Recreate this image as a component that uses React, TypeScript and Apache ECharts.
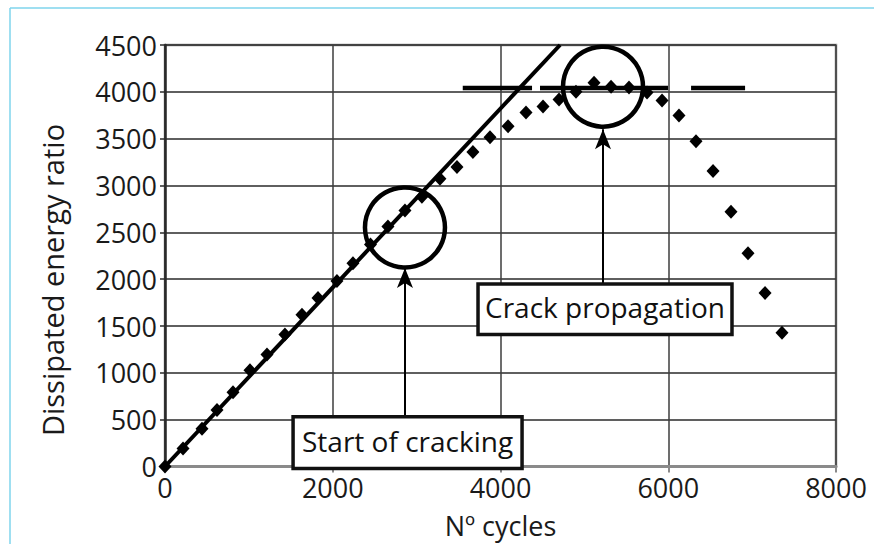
import React, { useEffect, useRef } from "react";
import * as echarts from "echarts";

// Measured points (Nº cycles, dissipated energy ratio)
const cycles = [0, 215, 441, 620, 811, 1013, 1216, 1430, 1633, 1824, 2050, 2241, 2450, 2658, 2861, 3063, 3278, 3481, 3671, 3875, 4090, 4304, 4507, 4698, 4900, 5115, 5318, 5532, 5747, 5926, 6128, 6331, 6534, 6748, 6951, 7154, 7356];
const energy = [0, 191, 403, 604, 794, 1027, 1197, 1408, 1620, 1800, 1980, 2171, 2370, 2563, 2732, 2880, 3071, 3198, 3357, 3515, 3632, 3780, 3843, 3918, 4002, 4098, 4055, 4045, 3992, 3907, 3748, 3473, 3155, 2721, 2276, 1853, 1429];

// Linear trend line
const trendX = [0, 4710];
const trendY = [0, 4500];

// Plateau (dashed) line
const plateauY = 4040;
const plateauSegments = [
  [3550, 4376],
  [4471, 5997],
  [6272, 6916],
];

// Axes
const xMin = 0;
const xMax = 8000;
const xStep = 2000;
const yMin = 0;
const yMax = 4500;
const yStep = 500;

// Annotations (data coordinates)
const circleCenters = [
  [2861, 2552],
  [5222, 4055],
];
const arrowX = [2861, 5222];
const arrowFrom = [529, 1948];
const arrowTo = [2118, 3600];
const boxTexts = ["Start of cracking", "Crack propagation"];
const boxX0 = [1527, 3732];
const boxX1 = [4257, 6760];
const boxYTop = [530, 1948];
const boxYBottom = [-21, 1408];

const FONT = "'Open Sans', 'Noto Sans', sans-serif";

export default function App() {
  const ref = useRef<HTMLDivElement>(null);

  useEffect(() => {
    document.body.style.margin = "0";
    const chart = echarts.init(ref.current!, undefined, { renderer: "svg" });

    const series: any[] = [
      {
        type: "line",
        data: trendX.map((x, i) => [x, trendY[i]]),
        symbol: "none",
        lineStyle: { color: "#000", width: 4 },
        z: 3,
        silent: true,
      },
      ...plateauSegments.map((s) => ({
        type: "line",
        data: [
          [s[0], plateauY],
          [s[1], plateauY],
        ],
        symbol: "none",
        lineStyle: { color: "#000", width: 4.5 },
        z: 3,
        silent: true,
      })),
      {
        type: "scatter",
        data: cycles.map((x, i) => [x, energy[i]]),
        symbol: "diamond",
        symbolSize: [13, 14],
        itemStyle: { color: "#000", opacity: 1 },
        z: 4,
        silent: true,
        markPoint: {
          silent: true,
          data: circleCenters.map((c) => ({
            coord: c,
            symbol: "circle",
            symbolSize: 80,
            itemStyle: { color: "rgba(0,0,0,0)", borderColor: "#000", borderWidth: 4.5 },
            label: { show: false },
          })),
        },
        markLine: {
          silent: true,
          animation: false,
          symbolSize: [12, 20],
          label: { show: false },
          lineStyle: { color: "#000", width: 2, type: "solid" },
          data: arrowX.map((x, i) => [
            { coord: [x, arrowFrom[i]], symbol: "none" },
            { coord: [x, arrowTo[i]], symbol: "arrow" },
          ]),
        },
      },
    ];

    chart.setOption({
      animation: false,
      grid: {
        left: 165,
        top: 45,
        right: 38,
        bottom: 74,
        show: true,
        borderColor: "#8a8a8a",
        borderWidth: 2.5,
        backgroundColor: "#fff",
      },
      xAxis: {
        type: "value",
        min: xMin,
        max: xMax,
        interval: xStep,
        name: "Nº cycles",
        nameLocation: "middle",
        nameGap: 47,
        nameTextStyle: { fontFamily: FONT, fontSize: 27, color: "#1a1a1a", lineHeight: 24 },
        axisLine: { show: true, onZero: false, lineStyle: { color: "#8a8a8a", width: 3 } },
        axisTick: { show: true, length: 6, lineStyle: { color: "#8a8a8a", width: 2 } },
        axisLabel: {
          fontFamily: FONT,
          fontSize: 27,
          color: "#1a1a1a",
          margin: 9,
          lineHeight: 24,
          formatter: (v: number) => String(v),
        },
        splitLine: { show: true, lineStyle: { color: "#3c3c3c", width: 1.5 } },
      },
      yAxis: {
        type: "value",
        min: yMin,
        max: yMax,
        interval: yStep,
        axisLine: { show: true, lineStyle: { color: "#2a2a2a", width: 2.5 } },
        axisTick: { show: true, length: 5, lineStyle: { color: "#2a2a2a", width: 1.5 } },
        axisLabel: {
          fontFamily: FONT,
          fontSize: 27,
          color: "#1a1a1a",
          margin: 8,
          formatter: (v: number) => String(v),
        },
        splitLine: { show: true, lineStyle: { color: "#2a2a2a", width: 1.5 } },
      },
      series,
    });

    const graphics: any[] = [
      {
        type: "line",
        shape: { x1: 10, y1: 8, x2: 874, y2: 8 },
        style: { stroke: "#7fd4ec", lineWidth: 1.5 },
        silent: true,
      },
      {
        type: "line",
        shape: { x1: 10, y1: 8, x2: 10, y2: 544 },
        style: { stroke: "#7fd4ec", lineWidth: 1.5 },
        silent: true,
      },
      {
        type: "text",
        x: 52,
        y: 280,
        rotation: Math.PI / 2,
        style: {
          text: "Dissipated energy ratio",
          fontFamily: FONT,
          fontSize: 29,
          fill: "#1a1a1a",
          align: "center",
          verticalAlign: "middle",
        },
        silent: true,
      },
    ];

    boxTexts.forEach((t, i) => {
      const p0 = chart.convertToPixel({ gridIndex: 0 }, [boxX0[i], boxYTop[i]]) as number[];
      const p1 = chart.convertToPixel({ gridIndex: 0 }, [boxX1[i], boxYBottom[i]]) as number[];
      graphics.push({
        type: "rect",
        shape: { x: p0[0], y: p0[1], width: p1[0] - p0[0], height: p1[1] - p0[1] },
        style: { fill: "#fff", stroke: "#111", lineWidth: 3.5 },
        z: 10,
        silent: true,
      });
      graphics.push({
        type: "text",
        x: (p0[0] + p1[0]) / 2,
        y: (p0[1] + p1[1]) / 2 - 2,
        style: {
          text: t,
          fontFamily: FONT,
          fontSize: 28,
          fill: "#111",
          align: "center",
          verticalAlign: "middle",
        },
        z: 11,
        silent: true,
      });
    });

    chart.setOption({ graphic: graphics });

    return () => chart.dispose();
  }, []);

  return <div ref={ref} style={{ width: 874, height: 544 }} />;
}
